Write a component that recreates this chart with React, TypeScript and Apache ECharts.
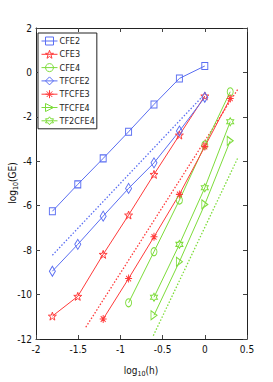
import React, { useEffect, useRef } from "react";
import * as echarts from "echarts";

// log10(h) values
const xA = [-1.806, -1.505, -1.204, -0.903, -0.602, -0.301, 0];
const xB = [-1.204, -0.903, -0.602, -0.301, 0, 0.301];
const xC = [-0.903, -0.602, -0.301, 0, 0.301];
const xD = [-0.602, -0.301, 0, 0.301];

// log10(GE) values
const cfe2 = [-6.25, -5.04, -3.87, -2.67, -1.44, -0.27, 0.29];
const cfe3 = [-10.97, -10.08, -8.19, -6.42, -4.59, -2.82, -1.06];
const cfe4 = [-10.37, -8.07, -5.75, -3.27, -0.87];
const tfcfe2 = [-8.95, -7.74, -6.47, -5.22, -4.07, -2.64, -1.12];
const tfcfe3 = [-11.1, -9.28, -7.4, -5.49, -3.34, -1.17];
const tfcfe4 = [-10.93, -8.52, -5.94, -3.08];
const tf2cfe4 = [-10.12, -7.74, -5.19, -2.22];

// reference slope lines (dotted)
const refBlueX = [-1.806, -0.037];
const refBlueY = [-8.23, -1.12];
const refRedX = [-1.41, 0.397];
const refRedY = [-11.47, -0.72];
const refGreenX = [-0.61, 0.397];
const refGreenY = [-11.85, -3.8];

const xTicks = [-2, -1.5, -1, -0.5, 0, 0.5];
const yTicks = [2, 0, -2, -4, -6, -8, -10, -12];

const BLUE = "#5a6ef2";
const RED = "#ff3a3a";
const GREEN = "#7ddc3a";
const FONT = "'Liberation Sans Narrow', 'DejaVu Sans Condensed', 'Liberation Sans', Arial, sans-serif";

const STAR = "path://M0,-10L2.35,-3.24L9.51,-3.09L3.8,1.24L5.88,8.09L0,4L-5.88,8.09L-3.8,1.24L-9.51,-3.09L-2.35,-3.24Z";
const ASTER = "path://M0,-10L0,10M-10,0L10,0M-7,-7L7,7M-7,7L7,-7";
const TRI = "path://M0,0L10,5L0,10Z";
const HEX = "path://M0,-10L2.89,-5L8.66,-5L5.77,0L8.66,5L2.89,5L0,10L-2.89,5L-8.66,5L-5.77,0L-8.66,-5L-2.89,-5Z";

const zip = (xs: number[], ys: number[]) => xs.map((x, i) => [x, ys[i]]);

function mk(name: string, xs: number[], ys: number[], color: string, symbol: string, size: number | number[]) {
  return {
    name,
    type: "line",
    data: zip(xs, ys),
    symbol,
    symbolSize: size,
    showSymbol: true,
    lineStyle: { color, width: 1 },
    itemStyle: { color: "rgba(0,0,0,0)", borderColor: color, borderWidth: 1 },
    z: 3,
  };
}

function ref(xs: number[], ys: number[], color: string) {
  return {
    type: "line",
    data: zip(xs, ys),
    symbol: "none",
    lineStyle: { color, width: 1.3, type: [1.5, 1.8] },
    silent: true,
    z: 2,
  };
}

export default function App() {
  const ref0 = useRef<HTMLDivElement>(null);
  useEffect(() => {
    if (!ref0.current) return;
    const chart = echarts.init(ref0.current, null, { renderer: "svg" });
    const axisCommon = {
      type: "value",
      axisLine: { show: true, onZero: false, lineStyle: { color: "#222", width: 1 } },
      axisTick: { show: true, inside: true, length: 4, lineStyle: { color: "#444" } },
      splitLine: { show: false },
    };
    chart.setOption({
      animation: false,
      backgroundColor: "#fff",
      grid: { left: 36, top: 28, width: 211, height: 311, containLabel: false },
      xAxis: [
        {
          ...axisCommon,
          position: "bottom",
          min: -2,
          max: 0.5,
          interval: 0.5,
          axisLabel: {
            color: "#111",
            fontSize: 10,
            fontFamily: FONT,
            margin: 5,
            formatter: (v: number) => (xTicks.includes(v) ? String(v) : ""),
          },
        },
        {
          ...axisCommon,
          position: "top",
          min: -2,
          max: 0.5,
          interval: 0.5,
          axisLabel: { show: false },
        },
      ],
      yAxis: [
        {
          ...axisCommon,
          position: "left",
          min: -12,
          max: 2,
          interval: 2,
          axisLabel: {
            color: "#111",
            fontSize: 10,
            fontFamily: FONT,
            margin: 4,
            formatter: (v: number) => (yTicks.includes(v) ? String(v) : ""),
          },
        },
        {
          ...axisCommon,
          position: "right",
          min: -12,
          max: 2,
          interval: 2,
          axisLabel: { show: false },
        },
      ],
      legend: {
        orient: "vertical",
        left: 38,
        top: 33,
        padding: [3, 2, 3, 3],
        itemGap: 3.3,
        itemWidth: 16,
        itemHeight: 10,
        backgroundColor: "#fff",
        borderColor: "#222",
        borderWidth: 1,
        borderRadius: 0,
        itemStyle: { borderWidth: 1 },
        lineStyle: { width: 1 },
        textStyle: { fontSize: 9, fontFamily: FONT, color: "#222", lineHeight: 10, padding: [0, 0, 0, -3] },
        data: ["CFE2", "CFE3", "CFE4", "TFCFE2", "TFCFE3", "TFCFE4", "TF2CFE4"],
      },
      graphic: [
        {
          type: "text",
          x: 141,
          y: 370,
          style: {
            text: "{a|log}{s|10}{a|(h)}",
            align: "center",
            verticalAlign: "middle",
            rich: {
              a: { fontSize: 10, fontFamily: FONT, fill: "#111", lineHeight: 14 },
              s: { fontSize: 7, fontFamily: FONT, fill: "#111", verticalAlign: "bottom", lineHeight: 8 },
            },
          },
        },
        {
          type: "text",
          x: 12,
          y: 183,
          rotation: Math.PI / 2,
          style: {
            text: "{a|log}{s|10}{a|(GE)}",
            align: "center",
            verticalAlign: "middle",
            rich: {
              a: { fontSize: 10, fontFamily: FONT, fill: "#111", lineHeight: 14 },
              s: { fontSize: 7, fontFamily: FONT, fill: "#111", verticalAlign: "bottom", lineHeight: 8 },
            },
          },
        },
      ],
      series: [
        ref(refBlueX, refBlueY, BLUE),
        ref(refRedX, refRedY, RED),
        ref(refGreenX, refGreenY, GREEN),
        mk("CFE2", xA, cfe2, BLUE, "rect", [6, 7]),
        mk("CFE3", xA, cfe3, RED, STAR, [8, 8]),
        mk("CFE4", xC, cfe4, GREEN, "circle", [6, 8]),
        mk("TFCFE2", xA, tfcfe2, BLUE, "diamond", [6, 10]),
        mk("TFCFE3", xB, tfcfe3, RED, ASTER, [7, 8]),
        mk("TFCFE4", xD, tfcfe4, GREEN, TRI, [6, 9]),
        mk("TF2CFE4", xD, tf2cfe4, GREEN, HEX, [7, 8]),
      ],
    });
    return () => chart.dispose();
  }, []);
  return (
    <div
      ref={ref0}
      style={{ position: "fixed", left: 0, top: 0, width: 273, height: 382, background: "#fff" }}
    />
  );
}
